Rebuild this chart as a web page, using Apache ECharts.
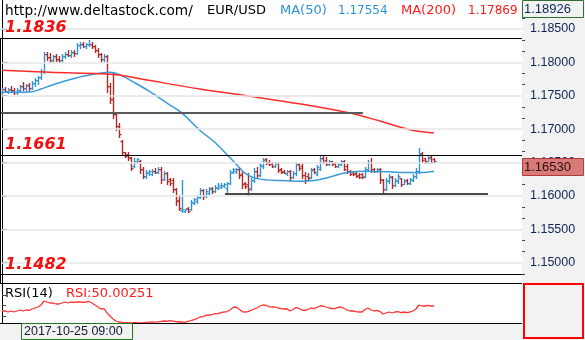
<!DOCTYPE html>
<html>
<head>
<meta charset="utf-8">
<script src="https://cdn.jsdelivr.net/npm/echarts@6/dist/echarts.min.js"></script>
<style>
  html, body { margin: 0; padding: 0; background: #f2f2f2; }
  #c { width: 585px; height: 340px; }
</style>
</head>
<body>
<div id="c"></div>
<script>
// EUR/USD hourly bars (open / high / low / close)
const opens = [
  1.1756,1.1760,1.1757,1.1760,1.1758,1.1755,1.1759,1.1764,1.1761,1.1766,
  1.1762,1.1769,1.1773,1.1778,1.1787,1.1812,1.1808,1.1803,1.1809,1.1805,
  1.1803,1.1810,1.1813,1.1811,1.1816,1.1814,1.1826,1.1828,1.1825,1.1827,
  1.1828,1.1824,1.1818,1.1812,1.1805,1.1809,1.1765,1.1745,1.1722,1.1705,
  1.1682,1.1665,1.1662,1.1656,1.1645,1.1651,1.1653,1.1640,1.1630,1.1634,
  1.1633,1.1638,1.1636,1.1641,1.1626,1.1634,1.1626,1.1624,1.1610,1.1594,
  1.1579,1.1578,1.1582,1.1580,1.1590,1.1592,1.1598,1.1609,1.1600,1.1604,
  1.1612,1.1607,1.1612,1.1614,1.1615,1.1612,1.1620,1.1636,1.1638,1.1641,
  1.1633,1.1620,1.1618,1.1612,1.1624,1.1638,1.1632,1.1645,1.1655,1.1651,
  1.1649,1.1645,1.1649,1.1640,1.1638,1.1634,1.1638,1.1628,1.1634,1.1648,
  1.1645,1.1632,1.1630,1.1628,1.1640,1.1633,1.1641,1.1657,1.1654,1.1648,
  1.1652,1.1650,1.1645,1.1648,1.1653,1.1645,1.1638,1.1636,1.1634,1.1632,
  1.1633,1.1630,1.1640,1.1651,1.1641,1.1637,1.1641,1.1624,1.1610,1.1622,
  1.1628,1.1616,1.1622,1.1627,1.1618,1.1624,1.1619,1.1624,1.1630,1.1637,
  1.1664,1.1656,1.1651,1.1658,1.1655
];
const highs = [
  1.1762,1.1763,1.1762,1.1764,1.1762,1.1761,1.1766,1.1770,1.1768,1.1769,
  1.1772,1.1776,1.1780,1.1790,1.1815,1.1816,1.1814,1.1811,1.1812,1.1810,
  1.1812,1.1815,1.1818,1.1818,1.1819,1.1829,1.1830,1.1830,1.1829,1.1834,
  1.1831,1.1826,1.1821,1.1814,1.1812,1.1811,1.1769,1.1784,1.1726,1.1709,
  1.1684,1.1666,1.1665,1.1658,1.1656,1.1656,1.1654,1.1643,1.1639,1.1639,
  1.1640,1.1642,1.1644,1.1643,1.1637,1.1636,1.1627,1.1627,1.1612,1.1601,
  1.1624,1.1581,1.1584,1.1594,1.1597,1.1601,1.1612,1.1610,1.1610,1.1613,
  1.1613,1.1616,1.1619,1.1619,1.1619,1.1621,1.1639,1.1642,1.1642,1.1642,
  1.1636,1.1621,1.1634,1.1627,1.1642,1.1643,1.1650,1.1657,1.1657,1.1654,
  1.1651,1.1651,1.1651,1.1642,1.1639,1.1639,1.1639,1.1637,1.1651,1.1650,
  1.1650,1.1636,1.1634,1.1642,1.1642,1.1646,1.1661,1.1659,1.1658,1.1654,
  1.1653,1.1651,1.1650,1.1654,1.1654,1.1648,1.1639,1.1636,1.1636,1.1634,
  1.1634,1.1643,1.1654,1.1657,1.1642,1.1642,1.1642,1.1625,1.1627,1.1633,
  1.1630,1.1627,1.1633,1.1627,1.1625,1.1625,1.1627,1.1633,1.1642,1.1672,
  1.1665,1.1657,1.1660,1.1660,1.1656
];
const lows = [
  1.1753,1.1755,1.1754,1.1756,1.1752,1.1752,1.1757,1.1759,1.1757,1.1758,
  1.1760,1.1764,1.1768,1.1775,1.1784,1.1803,1.1800,1.1801,1.1802,1.1800,
  1.1801,1.1806,1.1809,1.1808,1.1810,1.1812,1.1822,1.1823,1.1822,1.1825,
  1.1822,1.1816,1.1808,1.1800,1.1802,1.1755,1.1739,1.1717,1.1699,1.1688,
  1.1661,1.1658,1.1654,1.1639,1.1644,1.1649,1.1635,1.1627,1.1627,1.1631,
  1.1631,1.1634,1.1635,1.1620,1.1624,1.1618,1.1617,1.1606,1.1586,1.1579,
  1.1576,1.1576,1.1576,1.1579,1.1588,1.1590,1.1597,1.1596,1.1599,1.1603,
  1.1605,1.1606,1.1610,1.1612,1.1613,1.1605,1.1618,1.1634,1.1634,1.1627,
  1.1612,1.1612,1.1601,1.1609,1.1621,1.1627,1.1630,1.1642,1.1648,1.1646,
  1.1643,1.1644,1.1636,1.1634,1.1634,1.1631,1.1624,1.1627,1.1632,1.1639,
  1.1627,1.1620,1.1624,1.1627,1.1634,1.1631,1.1639,1.1649,1.1646,1.1646,
  1.1646,1.1643,1.1643,1.1646,1.1639,1.1634,1.1631,1.1631,1.1628,1.1627,
  1.1627,1.1629,1.1638,1.1636,1.1636,1.1636,1.1620,1.1606,1.1609,1.1619,
  1.1612,1.1615,1.1619,1.1615,1.1618,1.1618,1.1618,1.1622,1.1627,1.1634,
  1.1651,1.1650,1.1650,1.1649,1.1651
];
const closes = [
  1.1760,1.1757,1.1760,1.1758,1.1755,1.1759,1.1764,1.1761,1.1766,1.1762,
  1.1769,1.1773,1.1778,1.1787,1.1812,1.1808,1.1803,1.1809,1.1805,1.1803,
  1.1810,1.1813,1.1811,1.1816,1.1814,1.1826,1.1828,1.1825,1.1827,1.1828,
  1.1824,1.1818,1.1812,1.1805,1.1809,1.1765,1.1745,1.1722,1.1705,1.1692,
  1.1666,1.1660,1.1658,1.1642,1.1653,1.1655,1.1640,1.1630,1.1636,1.1637,
  1.1638,1.1636,1.1641,1.1626,1.1634,1.1622,1.1620,1.1610,1.1592,1.1582,
  1.1581,1.1580,1.1578,1.1591,1.1595,1.1599,1.1609,1.1600,1.1607,1.1610,
  1.1607,1.1614,1.1617,1.1617,1.1618,1.1619,1.1636,1.1640,1.1641,1.1631,
  1.1618,1.1615,1.1610,1.1624,1.1638,1.1632,1.1647,1.1654,1.1650,1.1648,
  1.1645,1.1649,1.1639,1.1636,1.1635,1.1638,1.1628,1.1634,1.1648,1.1642,
  1.1631,1.1624,1.1627,1.1639,1.1636,1.1643,1.1656,1.1651,1.1648,1.1652,
  1.1648,1.1645,1.1648,1.1652,1.1641,1.1637,1.1633,1.1633,1.1630,1.1629,
  1.1629,1.1640,1.1651,1.1641,1.1638,1.1641,1.1625,1.1610,1.1624,1.1630,
  1.1616,1.1624,1.1630,1.1618,1.1623,1.1620,1.1625,1.1630,1.1638,1.1662,
  1.1654,1.1652,1.1657,1.1651,1.1653
];

// Moving averages, sampled as [bar index, price]
const ma50 = [
  [0,1.1755],[5,1.1755],[10,1.1756],[13,1.1760],[16,1.1765],[21,1.1772],
  [27,1.1779],[33,1.1784],[36,1.1785],[39,1.1782],[44,1.1770],[49,1.1757],
  [55,1.1739],[60,1.1724],[66,1.1698],[71,1.1680],[76,1.1657],[79,1.1643],
  [81,1.1634],[84,1.1627],[88,1.1624],[93,1.1623],[99,1.1622],[104,1.1623],
  [109,1.1628],[115,1.1635],[122,1.1637],[129,1.1636],[136,1.1635],[140,1.1635],
  [144,1.1637]
];
const ma200 = [
  [0,1.1788],[16,1.1785],[33,1.1783],[39,1.1781],[49,1.1773],[66,1.1760],
  [83,1.1749],[99,1.1738],[116,1.1724],[126,1.1712],[136,1.1699],[144,1.1694]
];

// RSI(14), one value per bar
const rsi14 = [
  49.3,49.5,47.4,49.3,47.4,49.3,51.2,49.3,51.2,50.3,
  53.1,55.0,56.9,60.7,68.3,66.4,64.5,64.5,62.6,62.6,
  64.5,66.4,64.5,66.4,65.5,66.4,66.4,65.5,66.4,67.4,
  64.5,60.7,56.9,53.1,54.0,45.5,39.8,34.1,30.3,28.4,
  27.5,27.0,27.0,26.8,27.2,27.4,26.9,27.0,27.4,28.0,
  28.4,28.0,28.6,29.4,30.3,29.8,31.0,30.2,29.3,28.4,
  28.6,27.8,29.4,31.0,33.0,35.0,37.9,38.8,40.8,41.7,
  42.6,44.5,44.5,46.4,47.4,48.3,51.2,56.0,56.9,53.1,
  48.3,47.4,48.3,50.3,53.1,55.0,58.8,60.7,59.8,57.8,
  56.9,56.9,55.0,54.0,53.1,53.6,49.3,52.2,56.0,54.0,
  51.2,50.3,52.2,55.0,54.0,56.0,58.8,58.8,56.9,55.0,
  54.0,54.0,56.0,56.9,54.0,51.2,49.3,49.3,48.3,47.4,
  47.4,52.2,55.0,51.2,49.3,50.3,48.3,43.6,45.5,47.4,
  45.5,47.4,48.3,46.4,47.4,46.4,47.4,49.3,53.1,60.7,
  58.8,58.8,59.8,58.8,58.8
];

// Price scale labels and ticks
const priceLabels = [1.150, 1.155, 1.160, 1.165, 1.170, 1.175, 1.180, 1.185];
const priceMinorTicks = [1.14833, 1.15167, 1.15333, 1.15667, 1.15833, 1.16167, 1.16333,
  1.16667, 1.16833, 1.17167, 1.17333, 1.17667, 1.17833, 1.18167, 1.18333, 1.18667, 1.18833];
const rsiTicks = [40, 60, 80];

// Horizontal levels
const keyLevels = [1.1836, 1.1661, 1.1482];          // full width, labelled
const midLevel = { value: 1.1724, from: -0.67, to: 120.3 };
const supportLevel = { value: 1.1603, from: 74.3, to: 162 };

const chartHigh = 1.18926;
const cursorTime = '2017-10-25 09:00';
const ma50Label = '1.17554', ma200Label = '1.17869', rsiLabel = '50.00251';

const PRICE_MIN = 1.14696, PRICE_MAX = 1.18933;
const X_MIN = -0.67, X_MAX = 173.33;
const UP = '#2f93d2', DOWN = '#ad2a28';
const PLOT_W = 522;

const bars = opens.map((o, i) => [i, o, highs[i], lows[i], closes[i]]);

function renderBar(params, api) {
  const i = api.value(0);
  const o = api.value(1), h = api.value(2), l = api.value(3), c = api.value(4);
  const pH = api.coord([i, h]), pL = api.coord([i, l]);
  const pO = api.coord([i, o]), pC = api.coord([i, c]);
  const x = Math.round(pH[0]);
  const top = Math.round(pH[1]), bot = Math.round(pL[1]);
  const color = c >= o ? UP : DOWN;
  return {
    type: 'group',
    children: [
      { type: 'rect', shape: { x: x - 0.2, y: top, width: 1.4, height: Math.max(1, bot - top + 1) }, style: { fill: color } },
      { type: 'rect', shape: { x: x - 1.5, y: Math.round(pO[1]), width: 1.5, height: 1.2 }, style: { fill: color } },
      { type: 'rect', shape: { x: x + 1, y: Math.round(pC[1]), width: 1.5, height: 1.2 }, style: { fill: color } }
    ]
  };
}

const noLabel = { show: false };
const chart = echarts.init(document.getElementById('c'));

chart.setOption({
  animation: false,
  backgroundColor: '#f2f2f2',
  grid: [
    { left: 0, top: 0, width: PLOT_W, height: 283, show: true, backgroundColor: '#ffffff', borderWidth: 0 },
    { left: 0, top: 283, width: PLOT_W, height: 40, show: true, backgroundColor: '#ffffff', borderWidth: 0 }
  ],
  xAxis: [
    { type: 'value', gridIndex: 0, min: X_MIN, max: X_MAX, show: false },
    { type: 'value', gridIndex: 1, min: X_MIN, max: X_MAX, show: false }
  ],
  yAxis: [
    {
      type: 'value', gridIndex: 0, position: 'right', min: PRICE_MIN, max: PRICE_MAX,
      axisLine: { show: true, lineStyle: { color: '#000', width: 1 } },
      axisTick: { show: true, length: 5, customValues: priceLabels, lineStyle: { color: '#333' } },
      axisLabel: {
        show: true, customValues: priceLabels, margin: 8,
        formatter: v => v.toFixed(5),
        color: '#0f2656', fontFamily: 'Liberation Sans', fontSize: 12.5
      },
      splitLine: { show: false }
    },
    {
      type: 'value', gridIndex: 0, position: 'right', min: PRICE_MIN, max: PRICE_MAX,
      axisLine: { show: false },
      axisTick: { show: true, length: 3, customValues: priceMinorTicks, lineStyle: { color: '#444' } },
      axisLabel: { show: false },
      splitLine: { show: false }
    },
    {
      type: 'value', gridIndex: 1, position: 'right', min: 26.5, max: 102.5,
      axisLine: { show: true, lineStyle: { color: '#000', width: 1 } },
      axisTick: { show: true, length: 4, customValues: rsiTicks, lineStyle: { color: '#444' } },
      axisLabel: { show: false },
      splitLine: { show: false }
    }
  ],
  series: [
    {
      // price grid lines and horizontal levels
      type: 'line', xAxisIndex: 0, yAxisIndex: 0, z: 1, silent: true,
      data: [], showSymbol: false,
      markLine: {
        silent: true, symbol: ['none', 'none'], label: noLabel, animation: false, precision: 5,
        data: [
          ...priceLabels.map(v => ({ yAxis: v, lineStyle: { color: '#e6e6e6', width: 1.5, type: 'solid' } })),
          ...keyLevels.map(v => ({ yAxis: v, lineStyle: { color: '#000', width: 1.2, type: 'solid' } })),
          [
            { coord: [midLevel.from, midLevel.value], lineStyle: { color: '#5a5a5a', width: 2, type: 'solid' } },
            { coord: [midLevel.to, midLevel.value] }
          ],
          [
            { coord: [supportLevel.from, supportLevel.value], lineStyle: { color: '#4a4a4a', width: 2, type: 'solid' } },
            { coord: [supportLevel.to, supportLevel.value] }
          ]
        ]
      }
    },
    {
      type: 'custom', name: 'EUR/USD', xAxisIndex: 0, yAxisIndex: 0, z: 3, silent: true,
      renderItem: renderBar,
      encode: { x: 0, y: [1, 2, 3, 4] },
      data: bars
    },
    {
      type: 'line', name: 'MA(50)', xAxisIndex: 0, yAxisIndex: 0, z: 4, silent: true,
      data: ma50, smooth: 0.35, showSymbol: false,
      lineStyle: { color: '#3a9ad9', width: 1.5 }
    },
    {
      type: 'line', name: 'MA(200)', xAxisIndex: 0, yAxisIndex: 0, z: 4, silent: true,
      data: ma200, smooth: 0.35, showSymbol: false,
      lineStyle: { color: '#ff2a2a', width: 1.5 }
    },
    {
      type: 'line', name: 'RSI(14)', xAxisIndex: 1, yAxisIndex: 2, z: 4, silent: true,
      data: rsi14.map((v, i) => [i, v]), showSymbol: false,
      lineStyle: { color: '#ff3333', width: 1.3 }
    }
  ]
});

// Overlay texts, price tags and pane frames
const yPix = v => chart.convertToPixel({ yAxisIndex: 0 }, v);
const headFont = '13px "DejaVu Sans"';
const valueFont = '12px "DejaVu Sans"';
const levelFont = 'italic bold 16px "DejaVu Sans"';
const lastClose = closes[closes.length - 1];
const lastY = Math.round(yPix(lastClose));

const overlay = [
  // header
  { type: 'text', x: 5, y: 11, style: { text: 'http://www.deltastock.com/', font: '13.7px "DejaVu Sans"', fill: '#000', verticalAlign: 'middle' } },
  { type: 'text', x: 207, y: 11, style: { text: 'EUR/USD', font: headFont, fill: '#000', verticalAlign: 'middle' } },
  { type: 'text', x: 280, y: 11, style: { text: 'MA(50)', font: headFont, fill: '#2a94d6', verticalAlign: 'middle' } },
  { type: 'text', x: 338, y: 11, style: { text: ma50Label, font: valueFont, fill: '#2a94d6', verticalAlign: 'middle' } },
  { type: 'text', x: 401, y: 11, style: { text: 'MA(200)', font: headFont, fill: '#ff1a1a', verticalAlign: 'middle' } },
  { type: 'text', x: 468, y: 11, style: { text: ma200Label, font: valueFont, fill: '#ff1a1a', verticalAlign: 'middle' } },
  // RSI pane caption
  { type: 'text', x: 5, y: 294, style: { text: 'RSI(14)', font: headFont, fill: '#000', verticalAlign: 'middle' } },
  { type: 'text', x: 66, y: 294, style: { text: 'RSI:' + rsiLabel, font: headFont, fill: '#ff1a1a', verticalAlign: 'middle' } },
  // frames
  { type: 'line', shape: { x1: 0.5, y1: Math.round(yPix(keyLevels[0])), x2: 0.5, y2: 283 }, style: { stroke: '#000', lineWidth: 1 } },
  { type: 'line', shape: { x1: 0, y1: 283.5, x2: PLOT_W, y2: 283.5 }, style: { stroke: '#000', lineWidth: 1 } },
  { type: 'line', shape: { x1: 0, y1: 323.5, x2: PLOT_W, y2: 323.5 }, style: { stroke: '#000', lineWidth: 1 } },
  // chart high tag
  { type: 'rect', shape: { x: 522.5, y: 0.5, width: 61, height: 17 }, style: { fill: '#f2f2f2', stroke: '#2f6f2f', lineWidth: 1 } },
  { type: 'text', x: 524, y: 9.5, style: { text: chartHigh.toFixed(5), font: '13px "Liberation Sans"', fill: '#0f2656', verticalAlign: 'middle' } },
  // last price tag
  { type: 'rect', shape: { x: 522.5, y: lastY - 2.5, width: 61, height: 17 }, style: { fill: '#d77a78', stroke: '#b33a3a', lineWidth: 1 } },
  { type: 'text', x: 524, y: lastY + 6, style: { text: lastClose.toFixed(5), font: '13px "Liberation Sans"', fill: '#2a0d0d', verticalAlign: 'middle' } },
  // RSI value frame
  { type: 'rect', shape: { x: 524, y: 284, width: 59, height: 54 }, style: { fill: 'none', stroke: '#ff0000', lineWidth: 2 } },
  // time tag
  { type: 'rect', shape: { x: 21.5, y: 323.5, width: 111, height: 16 }, style: { fill: '#f2f2f2', stroke: '#1f7a1f', lineWidth: 1 } },
  { type: 'text', x: 24, y: 332, style: { text: cursorTime, font: '12.5px "Liberation Sans"', fill: '#0f1a33', verticalAlign: 'middle' } }
];

// labels for the key levels, set just above each line
keyLevels.forEach(v => {
  overlay.push({
    type: 'text', x: 5, y: yPix(v) - 10,
    style: { text: v.toFixed(4), font: levelFont, fill: '#f01010', verticalAlign: 'middle' }
  });
});

chart.setOption({ graphic: overlay.map(g => Object.assign({ z: 100, silent: true }, g)) });
</script>
</body>
</html>
